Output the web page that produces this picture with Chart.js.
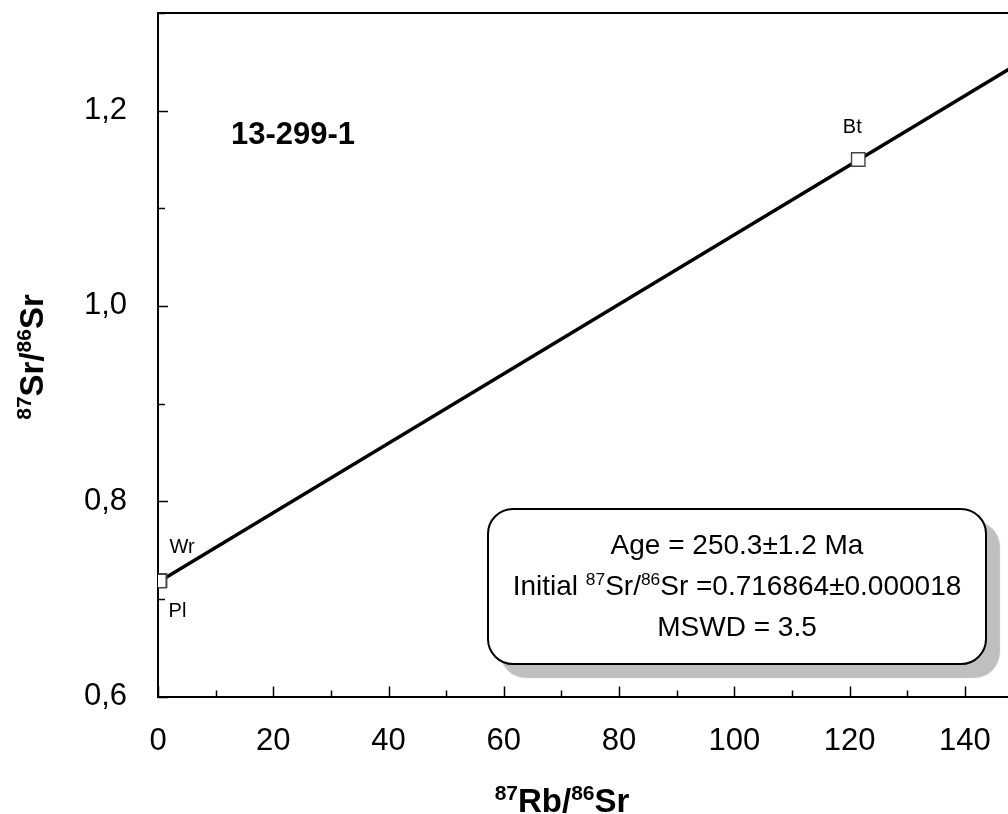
<!DOCTYPE html>
<html>
<head>
<meta charset="utf-8">
<script src="https://cdn.jsdelivr.net/npm/chart.js@4.4.0/dist/chart.umd.min.js"></script>
<style>
  html, body { margin: 0; padding: 0; width: 1008px; height: 814px; overflow: hidden; background: #fff; }
  #wrap { position: absolute; left: 0; top: 0; width: 1040px; height: 814px; }
  #note {
    position: absolute; left: 487px; top: 508px; width: 500px; height: 157px;
    box-sizing: border-box; border: 2px solid #000; border-radius: 26px; background: #fff;
    box-shadow: 13px 13px 1px #bfbfbf;
    font-family: 'Liberation Sans', Arial, sans-serif; font-size: 28px; color: #000;
    text-align: center; line-height: 41px; padding-top: 14px;
  }
  #note sup { font-size: 0.62em; vertical-align: 0.55em; line-height: 0; }
  #label {
    position: absolute; left: 231px; top: 117px;
    font-family: 'Liberation Sans', Arial, sans-serif; font-weight: bold; font-size: 31px; line-height: 34px; color: #000;
  }
</style>
</head>
<body>
<div id="wrap"><canvas id="c"></canvas></div>
<div id="label"></div>
<div id="note"></div>
<script>
// ---------- data ----------
const sampleName = '13-299-1';
const pointNames = ['Wr', 'Pl', 'Bt'];
const rbSr = [0.35, 0.25, 121.5];          // 87Rb/86Sr
const srSr = [0.7188, 0.7183, 1.150];      // 87Sr/86Sr
const isochronX = [0, 150];
const isochronY = [0.7169, 1.2509];
const xMajorLabels = [0, 20, 40, 60, 80, 100, 120, 140];
const yMajorLabels = ['0,6', '0,8', '1,0', '1,2'];
const noteLines = [
  'Age = 250.3±1.2 Ma',
  'Initial <sup>87</sup>Sr/<sup>86</sup>Sr =0.716864±0.000018',
  'MSWD = 3.5'
];
const xTitleParts = [['87', true], ['Rb/', false], ['86', true], ['Sr', false]];
const yTitleParts = [['87', true], ['Sr/', false], ['86', true], ['Sr', false]];

// ---------- layout / style ----------
const FONT = "'Liberation Sans', Arial, sans-serif";
const labelOffsets = { Wr: [22, -33], Pl: [18, 30], Bt: [-6, -32] };

document.getElementById('label').textContent = sampleName;
document.getElementById('note').innerHTML = noteLines.join('<br>');

function drawSupText(ctx, parts, size, supSize) {
  let w = 0;
  const widths = parts.map(([t, sup]) => {
    ctx.font = 'bold ' + (sup ? supSize : size) + 'px ' + FONT;
    const m = ctx.measureText(t).width; w += m; return m;
  });
  let x = -w / 2;
  parts.forEach(([t, sup], i) => {
    ctx.font = 'bold ' + (sup ? supSize : size) + 'px ' + FONT;
    ctx.fillText(t, x, sup ? -size * 0.36 : 0);
    x += widths[i];
  });
}

const decor = {
  id: 'decor',
  afterDraw(chart) {
    const { ctx, chartArea: a, scales: { x, y } } = chart;
    ctx.save();
    ctx.strokeStyle = '#000';
    ctx.lineWidth = 2;
    ctx.beginPath(); ctx.moveTo(a.left - 1, a.top); ctx.lineTo(a.right, a.top); ctx.stroke();
    ctx.lineWidth = 1.5;
    x.ticks.forEach(t => {
      const px = Math.round(x.getPixelForValue(t.value)) + 0.5;
      const len = (Math.round(t.value) % 20 === 0) ? 10 : 6;
      ctx.beginPath(); ctx.moveTo(px, a.bottom); ctx.lineTo(px, a.bottom - len); ctx.stroke();
    });
    y.ticks.forEach(t => {
      const py = Math.round(y.getPixelForValue(t.value)) + 0.5;
      const len = (Math.round(t.value * 10) % 2 === 0) ? 10 : 7;
      ctx.beginPath(); ctx.moveTo(a.left, py); ctx.lineTo(a.left + len, py); ctx.stroke();
    });
    // point labels
    const meta = chart.getDatasetMeta(0);
    ctx.fillStyle = '#000';
    ctx.font = '20px ' + FONT;
    ctx.textAlign = 'center'; ctx.textBaseline = 'middle';
    meta.data.forEach((el, i) => {
      const off = labelOffsets[pointNames[i]];
      ctx.fillText(pointNames[i], el.x + off[0], el.y + off[1]);
    });
    // axis titles
    ctx.textAlign = 'left'; ctx.textBaseline = 'alphabetic';
    ctx.save();
    ctx.translate(562, 812);
    drawSupText(ctx, xTitleParts, 33, 21);
    ctx.restore();
    ctx.save();
    ctx.translate(43, 357);
    ctx.rotate(-Math.PI / 2);
    drawSupText(ctx, yTitleParts, 33, 21);
    ctx.restore();
    ctx.restore();
  }
};

new Chart(document.getElementById('c'), {
  type: 'scatter',
  data: {
    datasets: [
      {
        label: 'samples',
        data: rbSr.map((v, i) => ({ x: v, y: srSr[i] })),
        pointStyle: 'rect', pointRadius: 9.5, pointHoverRadius: 9.5,
        backgroundColor: '#fff', borderColor: '#444', borderWidth: 1.4,
        order: 0
      },
      {
        label: 'isochron',
        data: isochronX.map((v, i) => ({ x: v, y: isochronY[i] })),
        showLine: true, pointRadius: 0, borderColor: '#000', borderWidth: 3.5,
        order: 1
      }
    ]
  },
  options: {
    responsive: true, maintainAspectRatio: false, animation: false, devicePixelRatio: 1,
    events: [],
    layout: { padding: { top: 13, right: 17.5, left: 0, bottom: 0 } },
    plugins: { legend: { display: false }, tooltip: { enabled: false } },
    scales: {
      x: {
        type: 'linear', min: 0, max: 150,
        grid: { display: false },
        border: { display: true, color: '#000', width: 2 },
        ticks: {
          stepSize: 10, autoSkip: false, maxRotation: 0, padding: 18, color: '#000',
          font: { family: FONT, size: 31 },
          callback: v => xMajorLabels.includes(Math.round(v)) && Math.abs(v - Math.round(v)) < 1e-6 ? String(Math.round(v)) : ''
        },
        afterFit: s => { s.height = 117.5; s.paddingLeft = 0; s.paddingRight = 0; }
      },
      y: {
        type: 'linear', min: 0.6, max: 1.3,
        grid: { display: false },
        border: { display: true, color: '#000', width: 2 },
        ticks: {
          stepSize: 0.1, autoSkip: false, padding: 23, color: '#000',
          font: { family: FONT, size: 31 },
          callback: v => {
            const k = Math.round(v * 10);
            return k % 2 === 0 ? yMajorLabels[(k - 6) / 2] || '' : '';
          }
        },
        afterFit: s => { s.width = 158; s.paddingTop = 0; s.paddingBottom = 0; }
      }
    }
  },
  plugins: [decor]
});
</script>
</body>
</html>
